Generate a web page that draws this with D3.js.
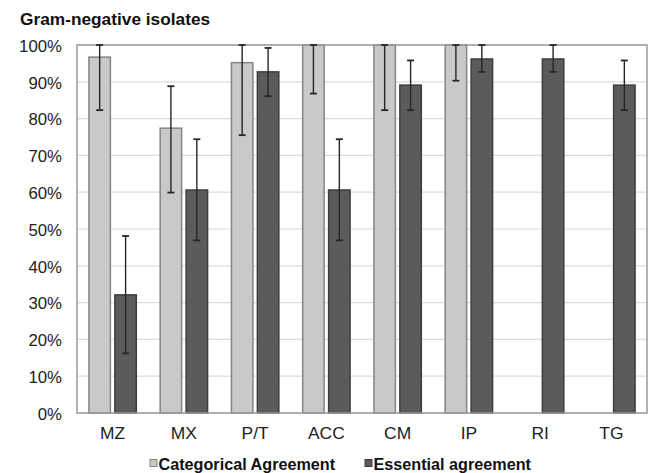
<!DOCTYPE html>
<html>
<head>
<meta charset="utf-8">
<script src="https://cdn.jsdelivr.net/npm/d3@7"></script>
<style>
  html, body { margin: 0; padding: 0; background: #fff; }
  svg { display: block; font-family: "Liberation Sans", Arial, sans-serif; }
</style>
</head>
<body>
<svg id="chart" width="654" height="473"></svg>
<script>
const categories = ["MZ", "MX", "P/T", "ACC", "CM", "IP", "RI", "TG"];
const seriesNames = ["Categorical Agreement", "Essential agreement"];
const categorical = [96.7, 77.4, 95.2, 100, 100, 100, null, null];
const categoricalLow = [82.3, 59.9, 75.5, 86.8, 82.3, 90.3, null, null];
const categoricalHigh = [100, 88.8, 100, 100, 100, 100, null, null];
const essential = [32.1, 60.6, 92.7, 60.6, 89.1, 96.2, 96.2, 89.1];
const essentialLow = [16.2, 46.9, 86.1, 46.9, 82.3, 92.7, 92.7, 82.3];
const essentialHigh = [48.1, 74.4, 99.2, 74.4, 95.8, 100, 100, 95.8];
const yTicks = [0, 10, 20, 30, 40, 50, 60, 70, 80, 90, 100];

const svg = d3.select("#chart");
const m = { left: 77, right: 647, top: 45, bottom: 413 };

const x = d3.scaleBand().domain(categories).range([m.left, m.right]).padding(0);
const xs = d3.scaleBand().domain(seriesNames).range([0, x.bandwidth()])
  .paddingInner(0.173).paddingOuter(0.46);
const y = d3.scaleLinear().domain([0, 100]).range([m.bottom, m.top]);

const colors = { fill: ["#c9c9c9", "#5b5b5b"], stroke: ["#858585", "#3e3e3e"] };

// title
svg.append("text").attr("x", 20).attr("y", 25)
  .attr("font-size", 17.3).attr("font-weight", "bold").attr("fill", "#111")
  .text("Gram-negative isolates");

// gridlines
svg.append("g").selectAll("line").data(yTicks).join("line")
  .attr("x1", m.left).attr("x2", m.right)
  .attr("y1", d => y(d)).attr("y2", d => y(d))
  .attr("stroke", "#dcdcdc").attr("stroke-width", 1.2);

// y axis labels
const yAxis = d3.axisLeft(y).tickValues(yTicks).tickFormat(d => d + "%").tickSize(0).tickPadding(15);
const gy = svg.append("g").attr("transform", `translate(${m.left},0)`).call(yAxis);
gy.select(".domain").remove();
gy.selectAll("text").attr("font-size", 16.8).attr("fill", "#222").attr("dy", "0.38em")
  .attr("font-family", "Liberation Sans, Arial, sans-serif");

// x axis labels
const xAxis = d3.axisBottom(x).tickSize(0).tickPadding(14);
const gx = svg.append("g").attr("transform", `translate(0,${m.bottom})`).call(xAxis);
gx.select(".domain").remove();
gx.selectAll("text").attr("font-size", 17.4).attr("fill", "#222")
  .attr("font-family", "Liberation Sans, Arial, sans-serif");

// data rows
const rows = [];
categories.forEach((c, i) => {
  rows.push({ cat: c, s: 0, v: categorical[i], lo: categoricalLow[i], hi: categoricalHigh[i] });
  rows.push({ cat: c, s: 1, v: essential[i], lo: essentialLow[i], hi: essentialHigh[i] });
});
const valid = rows.filter(d => d.v != null);

// bars
svg.append("g").selectAll("rect").data(valid).join("rect")
  .attr("x", d => x(d.cat) + xs(seriesNames[d.s]))
  .attr("width", xs.bandwidth())
  .attr("y", d => y(d.v))
  .attr("height", d => y(0) - y(d.v))
  .attr("fill", d => colors.fill[d.s])
  .attr("stroke", d => colors.stroke[d.s])
  .attr("stroke-width", 1.5);

// frame
svg.append("rect").attr("x", m.left).attr("y", m.top)
  .attr("width", m.right - m.left).attr("height", m.bottom - m.top)
  .attr("fill", "none").attr("stroke", "#9a9a9a").attr("stroke-width", 1.5);

// error bars
const eb = svg.append("g").attr("stroke", "#262626").attr("stroke-width", 1.4);
valid.filter(d => d.lo != null).forEach(d => {
  const cx = x(d.cat) + xs(seriesNames[d.s]) + xs.bandwidth() / 2;
  eb.append("line").attr("x1", cx).attr("x2", cx).attr("y1", y(d.hi)).attr("y2", y(d.lo));
  [d.hi, d.lo].forEach(v => {
    eb.append("line").attr("x1", cx - 3.5).attr("x2", cx + 3.5).attr("y1", y(v)).attr("y2", y(v))
      .attr("stroke-width", 1.8);
  });
});

// legend
const legend = [
  { name: seriesNames[0], s: 0, x: 150 },
  { name: seriesNames[1], s: 1, x: 365 }
];
const lg = svg.append("g");
legend.forEach(l => {
  lg.append("rect").attr("x", l.x).attr("y", 459.5).attr("width", 7).attr("height", 7)
    .attr("fill", colors.fill[l.s]).attr("stroke", colors.stroke[l.s]).attr("stroke-width", 1);
  lg.append("text").attr("x", l.x + 8.5).attr("y", 470)
    .attr("font-size", 16.2).attr("font-weight", "bold").attr("fill", "#111")
    .text(l.name);
});
</script>
</body>
</html>
